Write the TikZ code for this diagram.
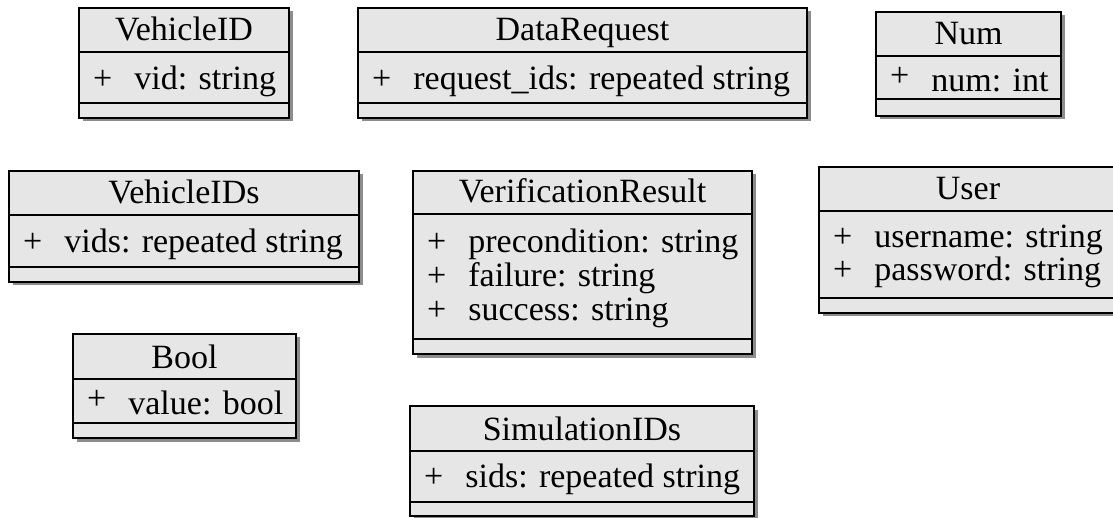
\documentclass[tikz,border=0pt]{standalone}
\usepackage{fontspec}
\setmainfont{Liberation Serif}
\definecolor{boxfill}{HTML}{E6E6E6}
\definecolor{shadowc}{HTML}{8C8C8C}
\tikzset{
  boxst/.style={draw=black, line width=1.6pt, fill=boxfill},
  linest/.style={draw=black, line width=1.6pt},
  shadowst/.style={fill=shadowc},
  titlest/.style={anchor=base, inner sep=0pt, font=\fontsize{34}{40}\selectfont},
  attrst/.style={anchor=base west, inner sep=0pt, font=\fontsize{34}{40}\selectfont},
}
\newcommand\umlbox[9]{% #1 name, #2 left, #3 top, #4 right, #5 bottom, #6 header y, #7 sep y, #8 title
  \fill[shadowst] (#2+3.5,#3+3.5) rectangle (#4+3.5,#5+3.5);
  \draw[boxst] (#2,#3) rectangle (#4,#5);
  \draw[linest] (#2,#6) -- (#4,#6);
  \draw[linest] (#2,#7) -- (#4,#7);
  \node[titlest] (#1) at ({(#2+#4)/2},#6-11) {#8};
  #9
}
\newcommand\plusattr[1]{+\hspace{22pt}#1}
\newcommand\raisedattr[1]{\raisebox{5pt}{+}\hspace{22pt}#1}
\begin{document}
\begin{tikzpicture}[x=1pt,y=-1pt]
\useasboundingbox (0,0) rectangle (1113,518);

\umlbox{vid}{79}{8}{289}{118}{52}{103}{VehicleID}{%
  \node[attrst] (vid-a1) at (93,90) {\plusattr{vid: string}};}

\umlbox{dreq}{358}{8}{807}{118}{52}{103}{DataRequest}{%
  \node[attrst] (dreq-a1) at (372,89.5) {\plusattr{request\_ids: repeated string}};}

\umlbox{num}{876}{12}{1061}{116}{56}{99}{Num}{%
  \node[attrst] (num-a1) at (890,91.5) {\raisedattr{num: int}};}

\umlbox{vids}{9}{171}{359}{282}{215}{267}{VehicleIDs}{%
  \node[attrst] (vids-a1) at (23,252.5) {\plusattr{vids: repeated string}};}

\umlbox{ver}{413}{171}{752}{354}{214}{339}{VerificationResult}{%
  \node[attrst] (ver-a1) at (427,253) {\plusattr{precondition: string}};
  \node[attrst] (ver-a2) at (427,287) {\plusattr{failure: string}};
  \node[attrst] (ver-a3) at (427,320) {\plusattr{success: string}};}

\umlbox{user}{819}{167}{1117}{313}{211}{298}{User}{%
  \node[attrst] (user-a1) at (833,247.5) {\plusattr{username: string}};
  \node[attrst] (user-a2) at (833,281) {\plusattr{password: string}};}

\umlbox{bool}{73}{334}{296}{438}{379}{423}{Bool}{%
  \node[attrst] (bool-a1) at (87,414) {\raisedattr{value: bool}};}

\umlbox{sim}{410}{406}{754}{516}{451}{502}{SimulationIDs}{%
  \node[attrst] (sim-a1) at (424,487) {\plusattr{sids: repeated string}};}
\end{tikzpicture}
\end{document}
